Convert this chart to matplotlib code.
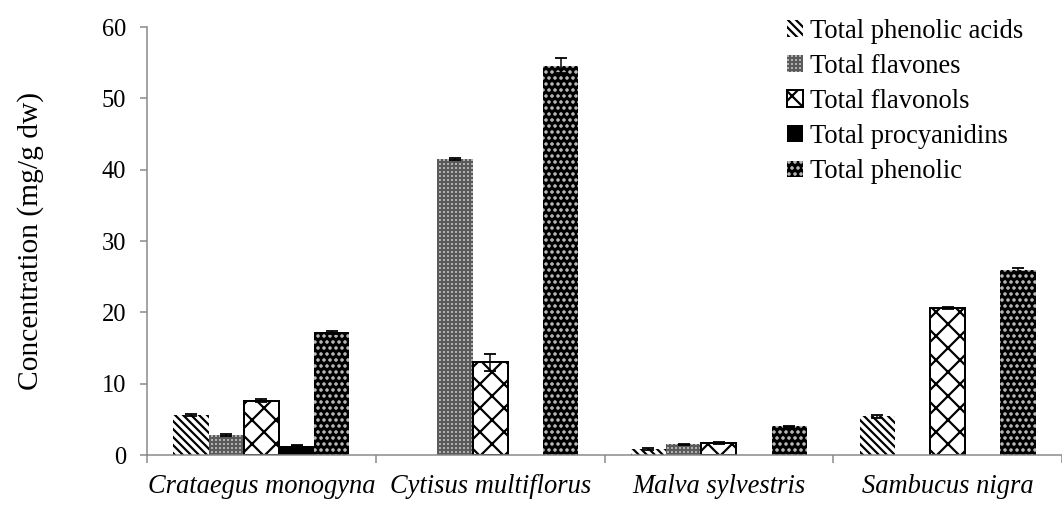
import numpy as np
import matplotlib
matplotlib.use('Agg')
from matplotlib import pyplot as plt

species = ['Crataegus monogyna', 'Cytisus multiflorus', 'Malva sylvestris', 'Sambucus nigra']
series = ['Total phenolic acids', 'Total flavones', 'Total flavonols',
          'Total procyanidins', 'Total phenolic']

phenolic_acids = [5.6, 0.0, 0.85, 5.4]
flavones = [2.8, 41.5, 1.5, 0.0]
flavonols = [7.6, 13.0, 1.7, 20.6]
procyanidins = [1.3, 0.0, 0.0, 0.0]
phenolic = [17.2, 54.6, 4.0, 25.9]

err_phenolic_acids = [0.15, 0.0, 0.1, 0.2]
err_flavones = [0.15, 0.2, 0.1, 0.0]
err_flavonols = [0.2, 1.2, 0.1, 0.2]
err_procyanidins = [0.1, 0.0, 0.0, 0.0]
err_phenolic = [0.2, 1.1, 0.1, 0.3]

values = [phenolic_acids, flavones, flavonols, procyanidins, phenolic]
errors = [err_phenolic_acids, err_flavones, err_flavonols, err_procyanidins, err_phenolic]

# (facecolor, hatch/edge colour, hatch, edge width)
styles = [
    ('white', 'black', '\\\\\\', 0.0),
    ('#c8c8c8', '#5a5a5a', '+++', 0.0),
    ('white', 'black', 'x', 2.0),
    ('black', 'black', None, 0.0),
    ('black', '#d0d0d0', '..', 0.0),
]

plt.rcParams['font.family'] = ['Liberation Serif', 'DejaVu Serif']
plt.rcParams['hatch.linewidth'] = 2.2

W, H = 1062, 506
fig = plt.figure(figsize=(W / 72, H / 72), dpi=72)
ax = fig.add_axes([147 / W, 51 / H, (W - 147) / W, 428 / H])

x = np.arange(len(species))
bw = 0.154
handles = []
for i, (vals, errs, st) in enumerate(zip(values, errors, styles)):
    fc, hc, hatch, lw = st
    pos = x + (i - 2) * bw
    bars = ax.bar(pos, vals, bw, color=fc, edgecolor=hc, hatch=hatch,
                  linewidth=lw, label=series[i], zorder=2)
    e = np.array(errs)
    m = e > 0
    ax.errorbar(pos[m], np.array(vals)[m], yerr=e[m], fmt='none', ecolor='black',
                elinewidth=1.5, capsize=6, capthick=1.8, zorder=4)
    handles.append(bars)

ax.set_xlim(-0.5, -0.5 + (W - 147) / 230.7)
ax.set_ylim(0, 60)
ax.set_yticks(range(0, 61, 10))
ax.set_xticks(x)
ax.set_xticklabels(species, fontsize=26.5, style='italic')
ax.set_xticks(np.arange(-0.5, 3.6, 1.0), minor=True)
ax.tick_params(axis='x', which='major', length=0, pad=19)
ax.tick_params(axis='x', which='minor', length=8, width=1.5, color='#888888', direction='out')
ax.tick_params(axis='y', length=7, width=1.5, color='#888888', direction='out',
               labelsize=24.5, pad=14)

for s in ['top', 'right']:
    ax.spines[s].set_visible(False)
for s in ['left', 'bottom']:
    ax.spines[s].set_color('#888888')
    ax.spines[s].set_linewidth(1.5)

ax.set_ylabel('Concentration (mg/g dw)', fontsize=29.5)
ax.yaxis.set_label_coords((44 - 147) / (W - 147), 0.5)

fig.legend(handles=handles, loc='upper left', bbox_to_anchor=(787 / W, 1 - 19 / H),
           bbox_transform=fig.transFigure, frameon=False, fontsize=26.5,
           handlelength=0.6, handleheight=0.6, handletextpad=0.25,
           labelspacing=0.38, borderpad=0, borderaxespad=0)

fig.savefig('out.png', dpi=72)
